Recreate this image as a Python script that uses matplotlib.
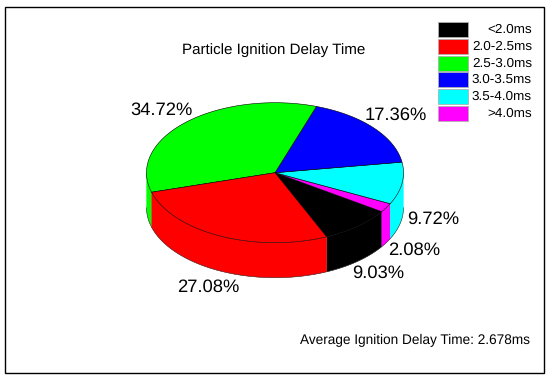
import numpy as np
import matplotlib
matplotlib.use('Agg')
import matplotlib.pyplot as plt
from matplotlib.patches import Rectangle

plt.rcParams['font.family'] = ['Liberation Sans', 'DejaVu Sans']
plt.rcParams['text.hinting'] = 'no_hinting'

categories = ['<2.0ms', '2.0-2.5ms', '2.5-3.0ms', '3.0-3.5ms', '3.5-4.0ms', '>4.0ms']
shares = [9.03, 27.08, 34.72, 17.36, 9.72, 2.08]
colors = ['#000000', '#ff0000', '#00ff00', '#0000ff', '#00ffff', '#ff00ff']
# order of the slices going counterclockwise from the black/red edge
slice_order = [0, 5, 4, 3, 2, 1]

# pie geometry in pixels
cx, cy = 275, 172.7
rx, ry = 128.5, 70
depth = 35
start = -66.3

# label positions in pixels
label_pos = [(378, 273), (208, 287), (161, 110), (396, 115), (433, 219.5), (414, 250.5)]

fig = plt.figure(figsize=(5.5, 3.8), dpi=100)
ax = fig.add_axes([0, 0, 1, 1])
ax.set_xlim(0, 550)
ax.set_ylim(380, 0)
ax.axis('off')

# frame
ax.add_patch(Rectangle((5, 6.5), 538.7, 366.5, fc='white', ec='black', lw=1.0))

total = sum(shares)
ang = start
wedges = []
for i in slice_order:
    sweep = shares[i] / total * 360
    wedges.append((i, ang, ang + sweep))
    ang += sweep

# side walls first, only the front half shows
for i, a0, a1 in wedges:
    for lo, hi in [(a0, a1), (a0 - 360, a1 - 360)]:
        lo2, hi2 = max(lo, -180), min(hi, 0)
        if hi2 <= lo2:
            continue
        t = np.radians(np.linspace(lo2, hi2, 80))
        x = cx + rx * np.cos(t)
        y = cy - ry * np.sin(t)
        ax.fill(np.r_[x, x[::-1]], np.r_[y, y[::-1] + depth], fc=colors[i], ec=colors[i], lw=0.2, zorder=2)

# thin outline along the bottom of the wall
t = np.radians(np.linspace(-180, 0, 200))
ax.plot(cx + rx * np.cos(t), cy - ry * np.sin(t) + depth, color='#303030', lw=0.4, zorder=3)

# top face
for i, a0, a1 in wedges:
    t = np.radians(np.linspace(a0, a1, 160))
    x = np.r_[cx, cx + rx * np.cos(t)]
    y = np.r_[cy, cy - ry * np.sin(t)]
    ax.fill(x, y, fc=colors[i], ec='black', lw=0.4, zorder=3)

for i, (lx, ly) in enumerate(label_pos):
    ax.text(lx, ly, '%.2f%%' % shares[i], fontsize=13.2, ha='center', va='center', color='black', zorder=4)

ax.text(274, 50, 'Particle Ignition Delay Time', fontsize=10.9, ha='center', va='center')
ax.text(414.5, 340, 'Average Ignition Delay Time: 2.678ms', fontsize=9.8, ha='center', va='center')

# legend
row_y = [22, 39, 56, 72, 89, 106]
for i, name in enumerate(categories):
    ax.add_patch(Rectangle((438, row_y[i]), 30, 15, fc=colors[i], ec='#b0b0b0', lw=0.6))
    ax.text(532, row_y[i] + 7.5, name, fontsize=9.7, ha='right', va='center')

fig.savefig('out.png', dpi=100)
